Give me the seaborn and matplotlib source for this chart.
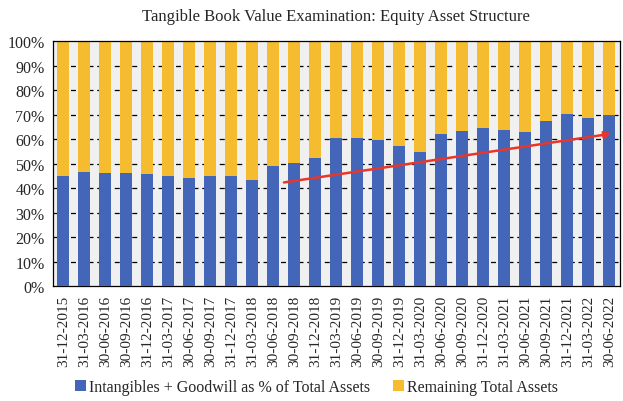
import numpy as np
import pandas as pd
import matplotlib
matplotlib.use("Agg")
import matplotlib.pyplot as plt
import seaborn as sns
from matplotlib.ticker import PercentFormatter

# 데이터
dates = ["31-12-2015", "31-03-2016", "30-06-2016", "30-09-2016", "31-12-2016",
         "31-03-2017", "30-06-2017", "30-09-2017", "31-12-2017", "31-03-2018",
         "30-06-2018", "30-09-2018", "31-12-2018", "31-03-2019", "30-06-2019",
         "30-09-2019", "31-12-2019", "31-03-2020", "30-06-2020", "30-09-2020",
         "31-12-2020", "31-03-2021", "30-06-2021", "30-09-2021", "31-12-2021",
         "31-03-2022", "30-06-2022"]
intangibles_pct = [45.0, 46.5, 46.1, 46.1, 45.7, 45.0, 44.4, 45.0, 45.0, 43.6,
                   49.1, 50.5, 52.3, 60.4, 60.4, 59.9, 57.2, 54.7, 62.1, 63.3,
                   64.5, 63.7, 62.9, 67.3, 70.5, 68.8, 69.8]
total_pct = [100.0] * len(dates)
# 추세선 (시작/끝)
trend_x = [10.5, 26.1]
trend_y = [42.4, 62.3]

df = pd.DataFrame({"date": dates, "intang": intangibles_pct, "total": total_pct})

sns.set_style("white")
plt.rcParams["font.family"] = ["Liberation Serif", "DejaVu Serif"]

fig, ax = plt.subplots(figsize=(6.23, 4.02), dpi=100)
ax.set_facecolor("#f0f0f0")

blue = "#4466b8"
yellow = "#f6bc30"

sns.barplot(data=df, x="date", y="total", color=yellow, width=0.57, linewidth=0,
            saturation=1, ax=ax, label="Remaining Total Assets", zorder=2)
sns.barplot(data=df, x="date", y="intang", color=blue, width=0.57, linewidth=0,
            saturation=1, ax=ax, label="Intangibles + Goodwill as % of Total Assets", zorder=3)

# 추세 화살표
ax.annotate("", xy=(trend_x[1], trend_y[1]), xytext=(trend_x[0], trend_y[0]),
            arrowprops=dict(arrowstyle="-|>", color="#e8372a", lw=1.8,
                            mutation_scale=10, shrinkA=0, shrinkB=0), zorder=5)

ax.set_ylim(0, 100)
ax.set_xlim(-0.5, len(dates) - 0.5)
ax.set_yticks(np.arange(0, 101, 10))
ax.yaxis.set_major_formatter(PercentFormatter(decimals=0))
for yv in range(10, 100, 10):
    ax.axhline(yv, color="black", lw=0.9, ls=(0, (4, 3)), zorder=1)

ax.set_xticks(range(len(dates)))
ax.set_xticklabels(dates, rotation=90, fontsize=11)
ax.set_xticks(np.arange(-0.5, len(dates), 1), minor=True)
ax.tick_params(axis="x", which="major", length=0, pad=6)
ax.tick_params(axis="x", which="minor", length=4, color="black", width=0.8)
ax.tick_params(axis="y", length=4, color="black", width=0.8, labelsize=11.5, pad=2)
ax.set_xlabel("")
ax.set_ylabel("")
for s in ax.spines.values():
    s.set_color("black")
    s.set_linewidth(0.9)

ax.set_title("Tangible Book Value Examination: Equity Asset Structure",
             fontsize=12, pad=15)

handles, labels = ax.get_legend_handles_labels()
order = [labels.index("Intangibles + Goodwill as % of Total Assets"),
         labels.index("Remaining Total Assets")]
ax.legend([handles[i] for i in order], [labels[i] for i in order],
          loc="center", bbox_to_anchor=(0.465, -0.41), ncol=2, frameon=False,
          fontsize=11.5, handlelength=0.7, handleheight=0.7, handletextpad=0.2,
          columnspacing=1.4)

plt.subplots_adjust(left=0.085, right=0.995, top=0.895, bottom=0.285)
plt.savefig("out.png", dpi=100)
